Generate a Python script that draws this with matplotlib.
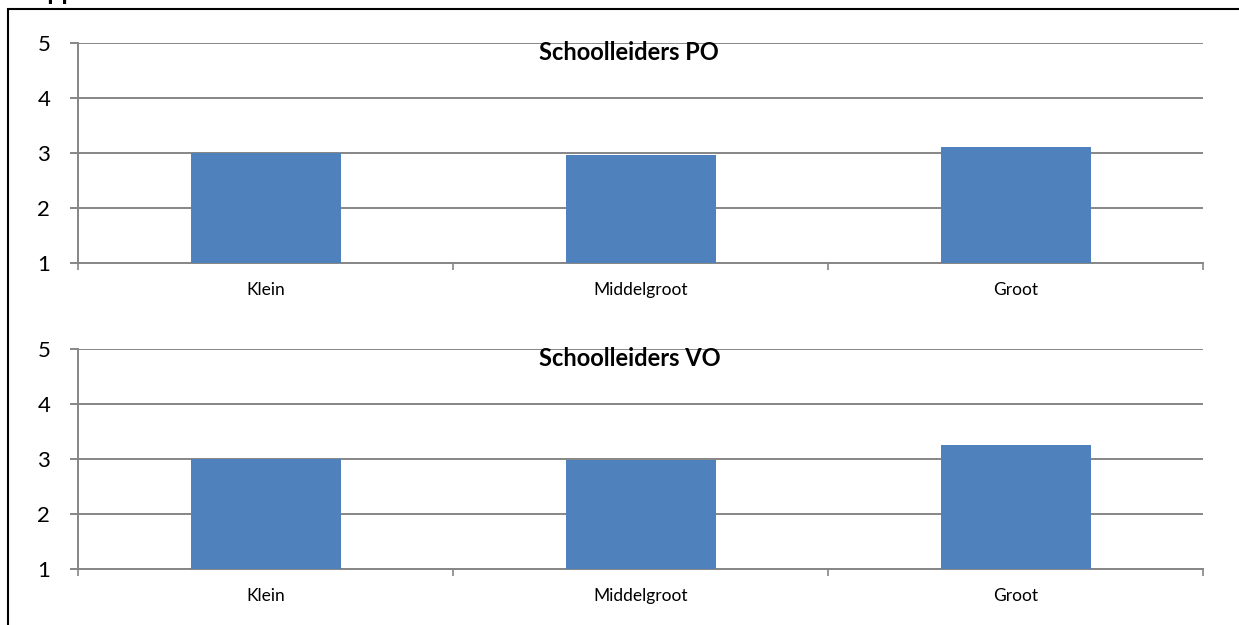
import matplotlib.pyplot as plt
from matplotlib.patches import Rectangle

# categories and mean scores per group
categories = ['Klein', 'Middelgroot', 'Groot']
po_values = [3.0, 2.97, 3.11]
vo_values = [3.0, 2.99, 3.25]
titles = ['Schoolleiders PO', 'Schoolleiders VO']
yticks = [1, 2, 3, 4, 5]

plt.rcParams['font.family'] = ['Lato', 'DejaVu Sans']

fig = plt.figure(figsize=(12.39, 6.25), dpi=100)
fig.patch.set_facecolor('white')

grid_col = '#868686'
bar_col = '#4f81bd'

panels = [
    ([0.0630, 0.5792, 0.9080, 0.352], po_values, titles[0]),
    ([0.0630, 0.0896, 0.9080, 0.352], vo_values, titles[1]),
]

for rect, vals, title in panels:
    ax = fig.add_axes(rect)
    x = list(range(len(categories)))
    ax.bar(x, [v - 1 for v in vals], bottom=1, width=0.4, color=bar_col, zorder=3)
    ax.set_xlim(-0.5, len(categories) - 0.5)
    ax.set_ylim(1, 5)
    ax.set_yticks(yticks)
    ax.set_yticklabels([str(t) for t in yticks], fontsize=16)
    ax.yaxis.grid(True, color=grid_col, linewidth=1.4, zorder=0)
    ax.tick_params(axis='y', length=6, width=1.4, color=grid_col, pad=14)
    # boundaries as major ticks, category labels on minor ticks
    ax.set_xticks([i - 0.5 for i in range(len(categories) + 1)])
    ax.set_xticklabels([])
    ax.set_xticks(x, minor=True)
    ax.set_xticklabels(categories, minor=True, fontsize=12.5)
    ax.tick_params(axis='x', which='major', length=5, width=1.2, color=grid_col)
    ax.tick_params(axis='x', which='minor', length=0, pad=14)
    for s in ['top', 'right']:
        ax.spines[s].set_visible(False)
    ax.spines['left'].set_color(grid_col)
    ax.spines['bottom'].set_color(grid_col)
    ax.spines['left'].set_linewidth(1.4)
    ax.spines['bottom'].set_linewidth(1.4)
    ax.text(0.49, 0.955, title, transform=ax.transAxes, ha='center', va='center',
            fontsize=17, fontweight='bold')

# frame around the chart area
fig.add_artist(Rectangle((8 / 1239, -0.1), 1.2, 1.1 - 9 / 625, transform=fig.transFigure,
                         fill=False, edgecolor='black', linewidth=1.5))
# heading cut off at the top of the image
fig.text(0.024, 1.0, 'App', fontsize=18, fontweight='bold', va='baseline')

fig.savefig('out.png', dpi=100, facecolor='white')
